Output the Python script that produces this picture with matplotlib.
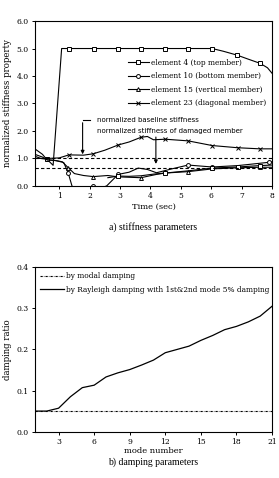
import numpy as np
import matplotlib
matplotlib.use("Agg")
import matplotlib.pyplot as plt

# ---- stiffness parameters (top panel) ----
e4_t = [0.2, 0.4, 0.6, 0.8, 1.08, 1.32, 2.13, 2.93, 3.69, 4.49, 5.24, 6.03, 6.4, 6.85, 7.2, 7.61, 7.85, 8.0]
e4_k = [1.08, 1.0, 0.97, 0.75, 5.0, 5.0, 5.0, 5.0, 5.0, 5.0, 5.0, 5.0, 4.9, 4.76, 4.62, 4.46, 4.3, 4.1]
e4_mk = [2, 5, 6, 7, 8, 9, 10, 11, 13, 15]

e4b_t = [2.6, 2.94, 3.3, 3.69, 4.1, 4.49, 5.24, 6.03, 6.87, 7.6, 8.0]
e4b_k = [0.3, 0.36, 0.35, 0.37, 0.43, 0.47, 0.55, 0.65, 0.69, 0.74, 0.76]
e4b_mk = [1, 5, 7, 8, 9]

e10_t = [0.2, 0.45, 0.6, 0.9, 1.15, 1.3, 1.42, 1.6, 2.0, 2.12, 2.3, 2.56, 2.94, 3.3, 3.6, 3.9, 4.2, 4.7,
         5.24, 6.03, 6.87, 7.9, 8.0]
e10_k = [1.35, 1.15, 0.95, 0.92, 0.85, 0.46, 0.0, -0.2, -0.1, 0.0, -0.1, 0.0, 0.42, 0.5, 0.65, 0.6,
         0.48, 0.62, 0.76, 0.69, 0.74, 0.86, 0.88]
e10_mk = [5, 9, 12, 18, 19, 21]

e15_t = [0.2, 0.45, 0.6, 0.85, 1.1, 1.3, 1.5, 1.8, 2.12, 2.6, 2.94, 3.69, 4.2, 4.49, 5.24, 6.03, 6.87,
         7.6, 8.0]
e15_k = [1.15, 1.05, 0.95, 0.93, 0.88, 0.66, 0.45, 0.38, 0.34, 0.38, 0.33, 0.30, 0.42, 0.47, 0.52,
         0.62, 0.66, 0.68, 0.68]
e15_mk = [5, 8, 11, 14, 17]

e23_t = [0.2, 0.6, 1.0, 1.32, 1.8, 2.12, 2.5, 2.94, 3.3, 3.69, 3.9, 4.1, 4.49, 5.24, 6.03, 6.87, 7.6, 8.0]
e23_k = [1.0, 1.0, 1.02, 1.13, 1.12, 1.17, 1.3, 1.49, 1.6, 1.77, 1.8, 1.68, 1.7, 1.64, 1.47, 1.39,
         1.35, 1.35]
e23_mk = [3, 5, 7, 9, 12, 13, 14, 15, 16]

baseline = 1.0
damaged = 0.67

# ---- damping parameters (bottom panel) ----
modes = np.arange(1, 22)
modal_damp = [0.05] * 21
rayleigh_damp = [0.05, 0.05, 0.057, 0.085, 0.107, 0.113, 0.133, 0.143, 0.151, 0.162, 0.174,
                 0.192, 0.200, 0.208, 0.222, 0.234, 0.248, 0.256, 0.267, 0.281, 0.305]

serif = "DejaVu Serif"
sans = "DejaVu Sans"
tick_fs = 5.5

fig = plt.figure(figsize=(2.79, 4.78), dpi=100)
ax1 = fig.add_axes([0.125, 0.611, 0.850, 0.345])
ax2 = fig.add_axes([0.125, 0.097, 0.850, 0.344])

lw = 0.8
ms = 2.8
common = dict(color="black", lw=lw, ms=ms, mfc="white", mew=0.7)
ax1.plot(e4_t, e4_k, marker="s", markevery=e4_mk, label="element 4 (top member)", **common)
ax1.plot(e10_t, e10_k, marker="o", markevery=e10_mk, label="element 10 (bottom member)", **common)
ax1.plot(e15_t, e15_k, marker="^", markevery=e15_mk, label="element 15 (vertical member)", **common)
ax1.plot(e23_t, e23_k, marker="x", markevery=e23_mk, label="element 23 (diagonal member)", **common)
ax1.plot(e4b_t, e4b_k, marker="s", markevery=e4b_mk, **common)
ax1.axhline(baseline, color="black", lw=0.8, ls=(0, (3, 2)))
ax1.axhline(damaged, color="black", lw=0.8, ls=(0, (3, 2)))

ax1.set_xlim(0.2, 8)
ax1.set_ylim(0, 6)
ax1.set_xticks(range(1, 9))
ax1.set_yticks(np.arange(0, 6.1, 1.0))
ax1.set_yticklabels([f"{v:.1f}" for v in np.arange(0, 6.1, 1.0)])
ax1.set_xlabel("Time (sec)", family=serif, fontsize=6, labelpad=2)
ax1.set_ylabel("normalized stiffness property", family=serif, fontsize=6.2, labelpad=3)

leg = ax1.legend(loc="upper left", bbox_to_anchor=(0.38, 0.79), frameon=False,
                 prop={"family": serif, "size": 5.3}, handlelength=2.8, handletextpad=0.3,
                 labelspacing=0.75, borderaxespad=0.0)

ax1.text(2.23, 2.4, "normalized baseline stiffness", family=sans, fontsize=5.0, va="center")
ax1.text(2.23, 2.0, "normalized stiffness of damaged member", family=sans, fontsize=5.0, va="center")
ax1.plot([1.77, 2.0], [2.4, 2.4], color="black", lw=0.8)
ax1.annotate("", xy=(1.77, 1.05), xytext=(1.77, 2.4),
             arrowprops=dict(arrowstyle="-|>", color="black", lw=0.8, mutation_scale=5))
ax1.annotate("", xy=(4.18, 0.7), xytext=(4.18, 1.88),
             arrowprops=dict(arrowstyle="-|>", color="black", lw=0.8, mutation_scale=5))

ax2.plot(modes, modal_damp, color="black", lw=0.8, ls=(0, (2, 1, 0.5, 1)), label="by modal damping")
ax2.plot(modes, rayleigh_damp, color="black", lw=0.9,
         label="by Rayleigh damping with 1st&2nd mode 5% damping")
ax2.set_xlim(1, 21)
ax2.set_ylim(0, 0.4)
ax2.set_xticks(range(3, 22, 3))
ax2.set_yticks(np.arange(0, 0.41, 0.1))
ax2.set_yticklabels([f"{v:.1f}" for v in np.arange(0, 0.41, 0.1)])
ax2.set_xlabel("mode number", family=serif, fontsize=6, labelpad=1)
ax2.set_ylabel("damping ratio", family=serif, fontsize=6.2, labelpad=3)
ax2.legend(loc="upper left", frameon=False, prop={"family": serif, "size": 5.3},
           handlelength=3.2, handletextpad=0.3, labelspacing=0.7, borderaxespad=0.3)

for ax in (ax1, ax2):
    ax.tick_params(direction="out", length=2.5, width=0.7, labelsize=tick_fs, pad=2)
    for lab in ax.get_xticklabels() + ax.get_yticklabels():
        lab.set_family(serif)
    for sp in ax.spines.values():
        sp.set_linewidth(0.8)

fig.text(0.55, 1 - 227 / 478, "a) stiffness parameters", family="Liberation Serif",
         fontsize=7, ha="center", va="center")
fig.text(0.55, 1 - 462 / 478, "b) damping parameters", family="Liberation Serif",
         fontsize=7, ha="center", va="center")

fig.savefig("out.png", dpi=100)
